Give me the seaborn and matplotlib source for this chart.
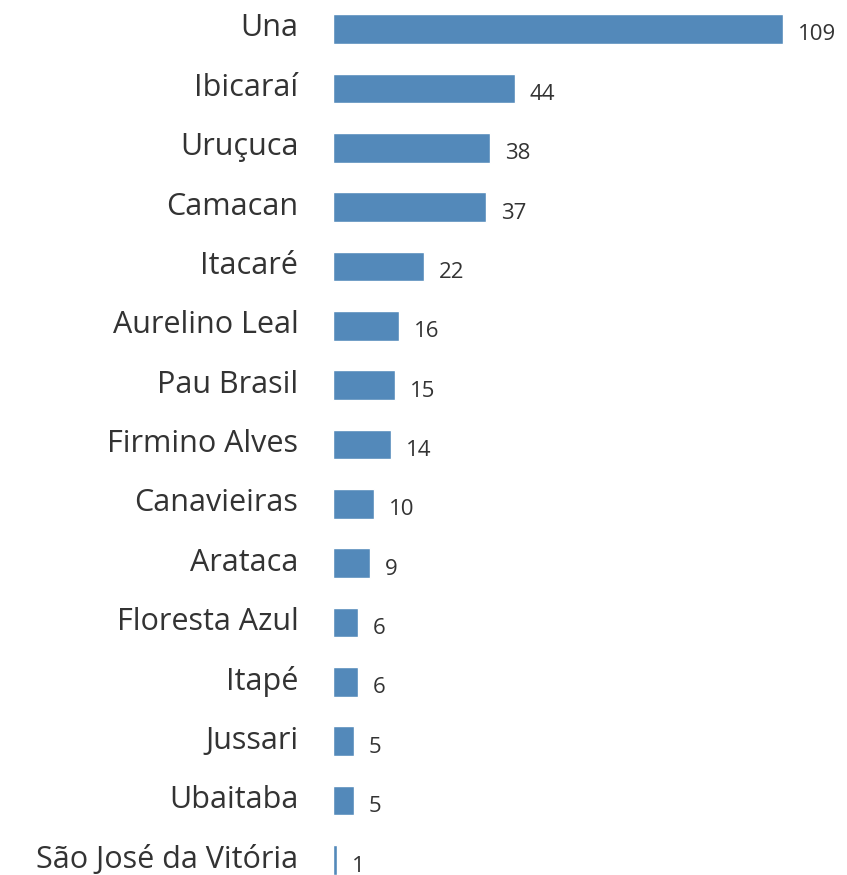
import matplotlib
matplotlib.use('Agg')
import matplotlib.pyplot as plt
import matplotlib.transforms as mtransforms
import seaborn as sns
import pandas as pd

# municipality counts
municipios = ['Una', 'Ibicaraí', 'Uruçuca', 'Camacan', 'Itacaré', 'Aurelino Leal',
              'Pau Brasil', 'Firmino Alves', 'Canavieiras', 'Arataca', 'Floresta Azul',
              'Itapé', 'Jussari', 'Ubaitaba', 'São José da Vitória']
valores = [109, 44, 38, 37, 22, 16, 15, 14, 10, 9, 6, 6, 5, 5, 1]

df = pd.DataFrame({'municipio': municipios, 'valor': valores})

sns.set_style('white')
plt.rcParams['font.family'] = ['Open Sans', 'DejaVu Sans']

fig = plt.figure(figsize=(8.47, 8.75), dpi=100)
ax = fig.add_axes([333 / 847, 0, 1 - 333 / 847, 1])

sns.barplot(data=df, x='valor', y='municipio', orient='h', color='#5389ba',
            width=0.5, saturation=1, ax=ax)

ax.set_xlim(0, 124.5)
ax.set_ylim(14 + 15 / 59.36, -29 / 59.36)

# value labels to the right of each bar
for i, v in enumerate(valores):
    ax.annotate(str(v), xy=(v, i), xytext=(15, -6), textcoords='offset pixels',
                ha='left', va='center', fontsize=16, color='#333333')

ax.set_xlabel('')
ax.set_ylabel('')
ax.set_xticks([])
ax.tick_params(axis='y', length=0, pad=25, labelsize=22, labelcolor='#333333')
# nudge the category names up a little so the last one fits
shift = mtransforms.ScaledTranslation(0, 4 / 100, fig.dpi_scale_trans)
for lbl in ax.get_yticklabels():
    lbl.set_transform(lbl.get_transform() + shift)
sns.despine(ax=ax, left=True, bottom=True)

plt.savefig('out.png', dpi=100)
